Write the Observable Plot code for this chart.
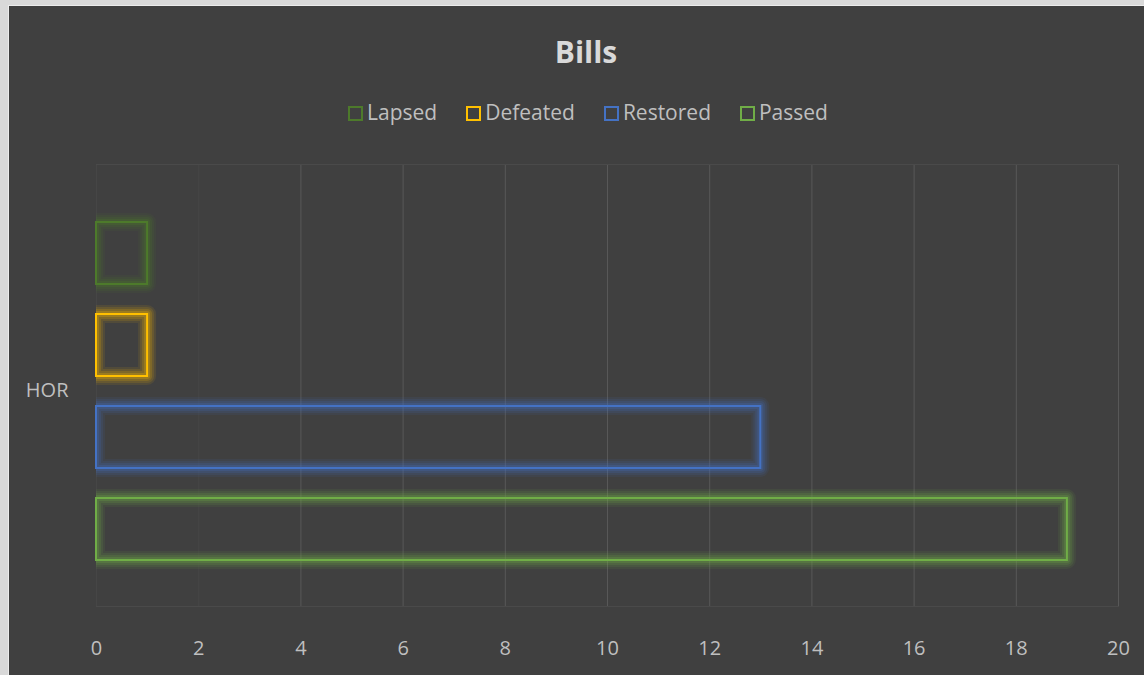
<!DOCTYPE html>
<html>
<head>
<meta charset="utf-8">
<script src="https://cdn.jsdelivr.net/npm/d3@7"></script>
<script src="https://cdn.jsdelivr.net/npm/@observablehq/plot@0.6"></script>
<style>
  html, body { margin: 0; padding: 0; background: #d9d9d9; width: 1144px; height: 675px; overflow: hidden; }
  #chart { position: absolute; left: 8px; top: 5px; width: 1136px; height: 670px; background: #404040; border-left: 1px solid #ececec; border-top: 1px solid #ececec; box-sizing: border-box; font-family: "Open Sans", sans-serif; }
  #title { position: absolute; top: 26px; left: 9px; width: 1136px; text-align: center; font-weight: bold; font-size: 30px; color: #d9d9d9; line-height: 40px; }
  #legend { position: absolute; top: 90px; left: 11px; width: 1136px; display: flex; justify-content: center; gap: 29px; font-size: 21px; color: #bfbfbf; line-height: 32px; }
  .item { display: flex; align-items: center; }
  .sw { width: 11px; height: 11px; border: 2px solid; margin-right: 4px; margin-top: 2px; }
  #plot { position: absolute; left: -1px; top: 134px; }
</style>
</head>
<body>
<div id="chart">
  <div id="title"></div>
  <div id="legend"></div>
  <div id="plot"></div>
</div>
<script>
const titleText = "Bills";
const categories = ["HOR"];
const series = ["Lapsed", "Defeated", "Restored", "Passed"];
const values = [1, 1, 13, 19];
const colors = ["#4d7a2b", "#ffc000", "#4472c4", "#70ad47"];
const xTicks = [0, 2, 4, 6, 8, 10, 12, 14, 16, 18, 20];

document.getElementById("title").textContent = titleText;
const legend = d3.select("#legend");
series.forEach((s, i) => {
  const it = legend.append("div").attr("class", "item");
  it.append("div").attr("class", "sw").style("border-color", colors[i]);
  it.append("span").text(s);
});

const data = series.map((s, i) => ({category: categories[0], series: s, value: values[i]}));

// soft glow approximated by stacked translucent strokes
const glowLayers = [
  {w: 18, o: 0.09},
  {w: 14, o: 0.12},
  {w: 10, o: 0.16},
  {w: 6, o: 0.22}
];

const chart = Plot.plot({
  width: 1136,
  height: 536,
  marginLeft: 88,
  marginRight: 26,
  marginTop: 24,
  marginBottom: 70,
  style: {background: "transparent", color: "#bfbfbf", fontFamily: "Open Sans, sans-serif", fontSize: "20px", overflow: "visible"},
  x: {domain: [0, 20], ticks: xTicks, tickSize: 0, tickPadding: 34, label: null, tickFormat: d => String(d)},
  y: {domain: series, range: [66, 435], paddingInner: 0.33, paddingOuter: 0.165, axis: null},
  color: {domain: series, range: colors},
  marks: [
    Plot.ruleX(xTicks, {stroke: d => d < 4 ? "#464646" : "#585858", strokeWidth: 1}),
    Plot.frame({anchor: "top", stroke: "#4a4a4a"}),
    Plot.frame({anchor: "bottom", stroke: "#4a4a4a"}),
    ...glowLayers.map(g => Plot.barX(data, {x: "value", y: "series", stroke: "series", strokeWidth: g.w, strokeOpacity: g.o, fill: "none", strokeLinejoin: "round", clip: "frame"})),
    Plot.barX(data, {x: "value", y: "series", stroke: "series", strokeWidth: 2, fill: "none"}),
    Plot.text(categories, {frameAnchor: "left", dx: -28, dy: 5, textAnchor: "end", text: d => d, fill: "#bfbfbf", fontSize: 20})
  ]
});

document.getElementById("plot").appendChild(chart);
</script>
</body>
</html>
